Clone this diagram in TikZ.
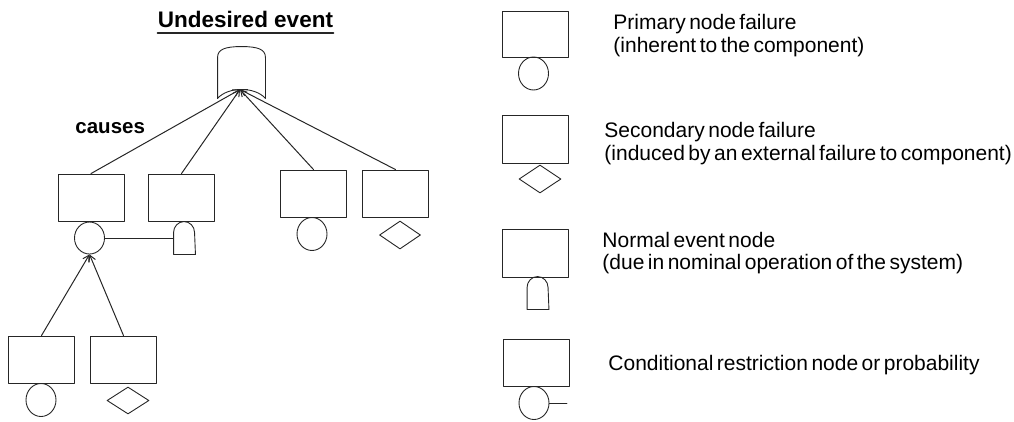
\documentclass[tikz,border=0pt]{standalone}
\usepackage{fontspec}
\setmainfont{Liberation Sans}
\newfontfamily\legendfont[WordSpace=0.6]{Liberation Sans}
\usetikzlibrary{arrows.meta,shapes.geometric}

\tikzset{
  evbox/.style={draw, rectangle, minimum width=66pt, minimum height=47pt, inner sep=0pt},
  basicev/.style={draw, ellipse, minimum width=30pt, minimum height=33pt, inner sep=0pt},
  undevel/.style={draw, diamond, minimum width=41pt, minimum height=28pt, inner sep=0pt},
  normspot/.style={rectangle, minimum width=21pt, minimum height=32pt, inner sep=0pt},
  cause/.style={-{Straight Barb[length=6pt,width=7pt]}, line width=1pt},
  legtext/.style={anchor=base west, inner sep=0pt, font=\legendfont\fontsize{21}{23}\selectfont},
}

% 正常事件（半圆顶的“房子”）：画在一个不画边框的节点框上
\newcommand\normalev[1]{%
  \draw (#1.south west) -- ([yshift=-11pt]#1.north west)
    arc[start angle=180, end angle=0, x radius=10.5pt, y radius=11pt]
    -- (#1.south east) -- cycle;}

\begin{document}
\begin{tikzpicture}[x=1pt, y=-1pt, line width=0.9pt, line cap=round, line join=round, draw=black!85]

  %% ════ 标题 ════
  \node[anchor=base, inner sep=0pt, font=\bfseries\fontsize{22.5}{27}\selectfont] (title) at (245.5,27.5) {Undesired event};
  \draw[line width=1.6pt] ([yshift=-5.5pt]title.base west) -- ([yshift=-5.5pt]title.base east);

  %% ════ 顶事件 ════
  \node[rectangle, minimum width=47pt, minimum height=51pt, inner sep=0pt] (topev) at (241.5,72.5) {};
  \draw (topev.south west) -- ([yshift=-11pt]topev.north west)
    .. controls ([yshift=-3pt]topev.north west) and ([xshift=7pt]topev.north west) .. (topev.north)
    .. controls ([xshift=-7pt]topev.north east) and ([yshift=-3pt]topev.north east) .. ([yshift=-11pt]topev.north east)
    -- (topev.south east)
    .. controls ([xshift=13.5pt,yshift=12pt]topev.south) and ([xshift=-13.5pt,yshift=12pt]topev.south) .. (topev.south west);
  \coordinate (topin) at ([xshift=-1.5pt,yshift=9pt]topev.south);

  \node[anchor=west, inner sep=0pt, font=\bfseries\fontsize{20.5}{25}\selectfont] (causes) at (75,128) {causes};

  %% ════ 第一层 ════
  \node[evbox] (bxA) at (91,197.5) {};
  \node[evbox] (bxB) at (181.5,197.5) {};
  \node[evbox] (bxC) at (313.5,193.5) {};
  \node[evbox] (bxD) at (395.5,193.5) {};

  \node[basicev, minimum height=32pt] (evA) at (89.5,238) {};
  \node[normspot] (evB) at (184.5,238) {};
  \normalev{evB}
  \node[basicev] (evC) at (312,234) {};
  \node[undevel] (evD) at (400,235) {};

  \draw (evA.east) -- (evB.west);

  \foreach \b in {bxA,bxB,bxC,bxD}
    \draw[cause] (\b.north) -- (topin);

  %% ════ 第二层 ════
  \node[evbox] (bxE) at (41.5,359.5) {};
  \node[evbox] (bxF) at (123.5,359.5) {};
  \node[basicev] (evE) at (41,400) {};
  \node[undevel, minimum width=42pt, minimum height=27pt] (evF) at (128,400.5) {};

  \draw[cause] (bxE.north) -- (evA.south);
  \draw[cause] (bxF.north) -- (evA.south);

  %% ════ 图例 ════
  \node[evbox, minimum height=46pt] (lgA) at (535.5,34) {};
  \node[basicev] (lgAev) at (533.5,73.5) {};
  \node[legtext] (lgAt1) at (613,29.5) {Primary node failure};
  \node[legtext] (lgAt2) at (613,52.5) {(inherent to the component)};

  \node[evbox, minimum height=48pt] (lgB) at (535.5,139) {};
  \node[undevel, minimum width=42pt] (lgBev) at (540,179) {};
  \node[legtext] (lgBt1) at (604,137) {Secondary node failure};
  \node[legtext] (lgBt2) at (604,160) {(induced by an external failure to component)};

  \node[evbox, minimum height=48pt] (lgC) at (535.5,253) {};
  \node[normspot] (lgCev) at (538,293) {};
  \normalev{lgCev}
  \node[legtext] (lgCt1) at (602,247) {Normal event node};
  \node[legtext] (lgCt2) at (602,269) {(due in nominal operation of the system)};

  \node[evbox] (lgD) at (536,362.5) {};
  \node[basicev] (lgDev) at (534,403) {};
  \coordinate (lgDend) at (567,403);
  \draw (lgDev.east) -- (lgDend);
  \node[legtext] (lgDt1) at (608,370) {Conditional restriction node or probability};

  % 钉死画布
  \pgfresetboundingbox
  \path[use as bounding box] (0,0) rectangle (1014,421);
\end{tikzpicture}
\end{document}
